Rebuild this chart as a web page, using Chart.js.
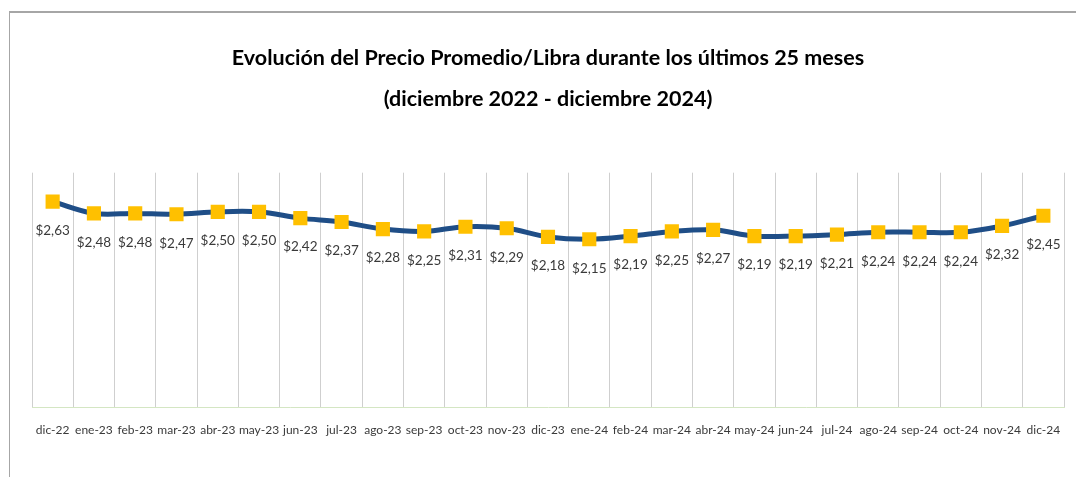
<!DOCTYPE html>
<html>
<head>
<meta charset="utf-8">
<script src="https://cdn.jsdelivr.net/npm/chart.js@4.4.1/dist/chart.umd.min.js"></script>
<style>
  html, body { margin: 0; padding: 0; background: #fff; }
  #wrap { position: relative; width: 1076px; height: 477px; overflow: hidden; }
  #frame { position: absolute; left: 9px; top: 11px; width: 1100px; height: 500px;
           border-top: 2px solid #a6a6a6; border-left: 1px solid #a6a6a6; box-sizing: border-box; }
  #chart { position: absolute; left: 0; top: 0; }
</style>
</head>
<body>
<div id="wrap">
  <div id="frame"></div>
  <canvas id="chart" width="1076" height="477"></canvas>
</div>
<script>
// Data
const months = ['dic-22', 'ene-23', 'feb-23', 'mar-23', 'abr-23', 'may-23', 'jun-23', 'jul-23',
    'ago-23', 'sep-23', 'oct-23', 'nov-23', 'dic-23', 'ene-24', 'feb-24', 'mar-24', 'abr-24',
    'may-24', 'jun-24', 'jul-24', 'ago-24', 'sep-24', 'oct-24', 'nov-24', 'dic-24'];
const avgPrice = [2.63, 2.48, 2.48, 2.47, 2.50, 2.50, 2.42, 2.37, 2.28, 2.25, 2.31, 2.29, 2.18,
    2.15, 2.19, 2.25, 2.27, 2.19, 2.19, 2.21, 2.24, 2.24, 2.24, 2.32, 2.45];
const titleLines = ['Evolución del Precio Promedio/Libra durante los últimos 25 meses',
    '(diciembre 2022 - diciembre 2024)'];

const fmtPrice = v => '$' + v.toFixed(2).replace('.', ',');

// small plugin: value labels under each point
const valueLabels = {
    id: 'valueLabels',
    afterDatasetsDraw(chart) {
        const c = chart.ctx;
        const meta = chart.getDatasetMeta(0);
        c.save();
        c.font = '13.5px Lato';
        c.fillStyle = '#3a3a3a';
        c.textAlign = 'center';
        c.textBaseline = 'middle';
        meta.data.forEach((pt, i) => {
            c.fillText(fmtPrice(avgPrice[i]), pt.x, pt.y + 29);
        });
        c.restore();
    }
};

const ctx = document.getElementById('chart').getContext('2d');
new Chart(ctx, {
    type: 'line',
    data: {
        labels: months,
        datasets: [{
            data: avgPrice,
            borderColor: '#1f4e87',
            borderWidth: 5,
            tension: 0.35,
            pointStyle: 'rect',
            pointRadius: 10,
            pointHoverRadius: 10,
            pointBackgroundColor: '#ffc000',
            pointBorderColor: '#ffc000',
            pointBorderWidth: 0
        }]
    },
    options: {
        responsive: false,
        animation: false,
        layout: { padding: { left: 32, right: 12, top: 0, bottom: 25 } },
        plugins: {
            legend: { display: false },
            tooltip: { enabled: false },
            title: {
                display: true,
                text: titleLines,
                color: '#000',
                font: { family: 'Lato', size: 21.5, weight: 'bold', lineHeight: 1.9 },
                padding: { top: 38, bottom: 53 }
            }
        },
        scales: {
            x: {
                offset: true,
                grid: { offset: true, color: '#cfcfcf', drawTicks: false },
                border: { color: '#d4e6c3', width: 1 },
                ticks: { color: '#3a3a3a', font: { family: 'Lato', size: 12 }, padding: 15, maxRotation: 0, autoSkip: false }
            },
            y: {
                display: false,
                min: 0,
                max: 3
            }
        }
    },
    plugins: [valueLabels]
});
</script>
</body>
</html>
